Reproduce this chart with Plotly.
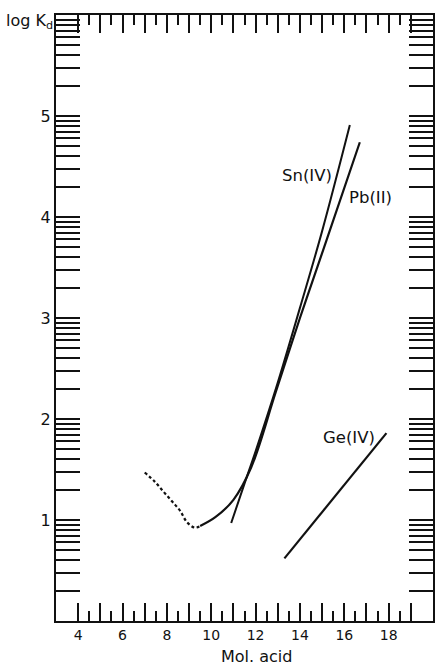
import numpy as np
import plotly.graph_objects as go

# Pb(II): dotted low-acid branch, then the solid curve
pb_dot_x = [7.0, 7.45, 7.85, 8.25, 8.6, 8.9, 9.25, 9.5]
pb_dot_y = [1.47, 1.38, 1.28, 1.18, 1.09, 0.98, 0.925, 0.94]
pb_x = [9.5, 10.2, 11.0, 11.8, 12.9, 14.0, 15.2, 16.7]
pb_y = [0.94, 1.03, 1.2, 1.52, 2.26, 3.0, 3.77, 4.74]

# Sn(IV)
sn_x = [10.9, 11.5, 12.0, 13.0, 14.0, 15.0, 16.25]
sn_y = [0.97, 1.36, 1.68, 2.36, 3.1, 3.86, 4.91]

# Ge(IV)
ge_x = [13.3, 17.9]
ge_y = [0.62, 1.86]

# curve labels
label_text = ["Sn(IV)", "Pb(II)", "Ge(IV)"]
label_x = [14.32, 17.2, 16.2]
label_y = [4.41, 4.19, 1.82]

# axis ticks: labelled even integers, unlabelled odd integers, half-unit minors
x_even = [4, 6, 8, 10, 12, 14, 16, 18]
x_odd = [5, 7, 9, 11, 13, 15, 17, 19]
x_half = [v + 0.5 for v in range(4, 19)]
y_major = [1, 2, 3, 4, 5]
y_minor = [d + float(np.log10(k)) for d in range(0, 6) for k in range(2, 10)]

INK = "#111111"
FONT = "DejaVu Sans"
X_RANGE = [3, 20]

fig = go.Figure()
fig.add_trace(go.Scatter(x=pb_dot_x, y=pb_dot_y, mode="lines",
                         line=dict(color=INK, width=2.2, dash="3px,2.5px", shape="spline"),
                         hoverinfo="skip"))
fig.add_trace(go.Scatter(x=pb_x, y=pb_y, mode="lines",
                         line=dict(color=INK, width=2.2, shape="spline"),
                         hoverinfo="skip"))
fig.add_trace(go.Scatter(x=sn_x, y=sn_y, mode="lines",
                         line=dict(color=INK, width=2.0, shape="spline"),
                         hoverinfo="skip"))
fig.add_trace(go.Scatter(x=ge_x, y=ge_y, mode="lines",
                         line=dict(color=INK, width=2.2),
                         hoverinfo="skip"))
# empty trace that carries the overlay axis for the odd-integer ticks
fig.add_trace(go.Scatter(x=[None], y=[None], xaxis="x2", mode="lines",
                         hoverinfo="skip"))

for t, lx, ly in zip(label_text, label_x, label_y):
    fig.add_annotation(x=lx, y=ly, text=t, showarrow=False,
                       font=dict(family=FONT, size=16.5, color=INK),
                       xanchor="center", yanchor="middle")

# axis captions
fig.add_annotation(xref="paper", yref="paper", x=0.533, y=-0.059,
                   text="Mol. acid", showarrow=False,
                   font=dict(family=FONT, size=16, color=INK),
                   xanchor="center", yanchor="middle")
fig.add_annotation(xref="paper", yref="paper", x=-0.002, y=0.99,
                   text="log K<sub>d</sub>", showarrow=False,
                   font=dict(family=FONT, size=16, color=INK),
                   xanchor="right", yanchor="middle")

tick_style = dict(ticks="inside", tickwidth=1.5, tickcolor=INK)

fig.update_layout(
    xaxis=dict(range=X_RANGE, showgrid=False, zeroline=False,
               showline=True, linecolor=INK, linewidth=2, mirror="allticks",
               tickmode="array", tickvals=x_even, ticktext=[str(v) for v in x_even],
               ticklen=18, tickfont=dict(family=FONT, size=14, color=INK),
               **tick_style),
    xaxis2=dict(range=X_RANGE, overlaying="x", side="bottom", matches="x",
                showgrid=False, zeroline=False, showline=False, mirror="allticks",
                showticklabels=False, tickmode="array", tickvals=x_odd,
                ticklen=18, **tick_style,
                minor=dict(tickmode="array", tickvals=x_half, ticklen=10,
                           showgrid=False, **tick_style)),
    yaxis=dict(range=[0, 6], showgrid=False, zeroline=False,
               showline=True, linecolor=INK, linewidth=2, mirror="allticks",
               tickmode="array", tickvals=y_major, ticktext=[str(v) for v in y_major],
               ticklen=24, tickfont=dict(family=FONT, size=16, color=INK),
               minor=dict(tickmode="array", tickvals=y_minor, ticklen=12,
                          showgrid=False, **tick_style),
               **tick_style),
    width=437, height=666, showlegend=False,
    paper_bgcolor="white", plot_bgcolor="white",
    margin=dict(l=56, r=2, t=15, b=45),
)

fig.write_html("out.html", config={"displayModeBar": False})
